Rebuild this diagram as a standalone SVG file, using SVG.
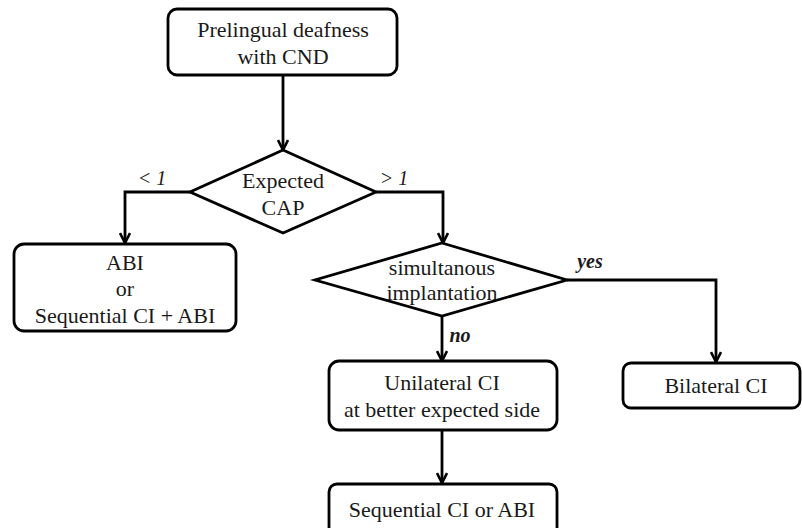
<svg xmlns="http://www.w3.org/2000/svg" width="802" height="528" viewBox="0 0 802 528">
<style>
.box{fill:#fff;stroke:#000;stroke-width:2.8}
.ln{fill:none;stroke:#000;stroke-width:2.8}
.t{font-size:22px;fill:#1a1a1a;text-anchor:middle}
.lbl{font-style:italic;font-size:20px;fill:#1a1a1a;text-anchor:middle}
.lb{font-style:italic;font-weight:bold;font-size:20px;fill:#1a1a1a;text-anchor:middle}
</style>
<defs>
<marker id="ah" viewBox="0 0 12 12" refX="11" refY="6" markerWidth="12" markerHeight="12" markerUnits="userSpaceOnUse" orient="auto">
<path d="M1,1 L11,6 L1,11" fill="none" stroke="#000" stroke-width="2.6"/>
</marker>
</defs>
<rect width="802" height="528" fill="#fff"/>
<g font-family="Liberation Serif, serif">
<g id="connectors">
<path class="ln" d="M283,75 V150" marker-end="url(#ah)"/>
<path class="ln" d="M190,192 H125 V243" marker-end="url(#ah)"/>
<path class="ln" d="M376,192 H443 V243" marker-end="url(#ah)"/>
<path class="ln" d="M567,280 H716 V362" marker-end="url(#ah)"/>
<path class="ln" d="M442,316 V361" marker-end="url(#ah)"/>
<path class="ln" d="M442,431 V483" marker-end="url(#ah)"/>
<text class="lbl" x="152" y="185">&lt; 1</text>
<text class="lbl" x="394" y="185">&gt; 1</text>
<text class="lb" x="590" y="268">yes</text>
<text class="lb" x="460" y="342">no</text>
</g>
<g id="start">
<rect class="box" x="168" y="9" width="229" height="66" rx="9"/>
<text class="t" x="283" y="37">Prelingual deafness</text>
<text class="t" x="283" y="64">with CND</text>
</g>
<g id="cap">
<polygon class="box" points="283,150 376,192 283,233 190,192"/>
<text class="t" x="283" y="188">Expected</text>
<text class="t" x="283" y="215">CAP</text>
</g>
<g id="abi">
<rect class="box" x="14" y="244" width="222" height="87" rx="10"/>
<text class="t" x="125" y="270">ABI</text>
<text class="t" x="125" y="296">or</text>
<text class="t" x="125" y="323">Sequential CI + ABI</text>
</g>
<g id="simul">
<polygon class="box" points="442,243 567,280 442,316 315,280"/>
<text class="t" x="442" y="275">simultanous</text>
<text class="t" x="442" y="300">implantation</text>
</g>
<g id="bilateral">
<rect class="box" x="623" y="363" width="177" height="45" rx="8"/>
<text class="t" x="716" y="393">Bilateral CI</text>
</g>
<g id="unilateral">
<rect class="box" x="329" y="361" width="228" height="69" rx="10"/>
<text class="t" x="442" y="390">Unilateral CI</text>
<text class="t" x="442" y="417">at better expected side</text>
</g>
<g id="sequential">
<rect class="box" x="329" y="484" width="228" height="52" rx="8"/>
<text class="t" x="442" y="517">Sequential CI or ABI</text>
</g>
</g>
</svg>
